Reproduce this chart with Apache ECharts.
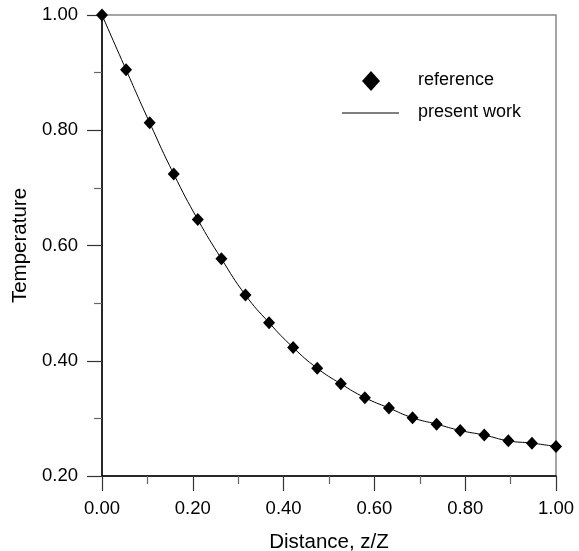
<!DOCTYPE html>
<html>
<head>
<meta charset="utf-8">
<script src="https://cdn.jsdelivr.net/npm/echarts@6/dist/echarts.min.js"></script>
<style>
  html, body { margin: 0; padding: 0; background: #fff; }
  #chart { width: 579px; height: 551px; }
</style>
</head>
<body>
<div id="chart"></div>
<script>
// z/Z positions of the points
const distance = [0.000, 0.053, 0.105, 0.158, 0.211, 0.263, 0.316, 0.368, 0.421, 0.474,
  0.526, 0.579, 0.632, 0.684, 0.737, 0.789, 0.842, 0.895, 0.947, 1.000]
// reference values (diamonds)
const reference = [1.000, 0.905, 0.813, 0.724, 0.645, 0.577, 0.514, 0.466, 0.423, 0.387,
  0.360, 0.336, 0.318, 0.301, 0.290, 0.279, 0.271, 0.261, 0.257, 0.251]
// present work (solid line)
const presentWork = [1.000, 0.905, 0.813, 0.724, 0.645, 0.577, 0.514, 0.466, 0.423, 0.387,
  0.360, 0.336, 0.318, 0.301, 0.290, 0.279, 0.271, 0.261, 0.257, 0.251]

const font = 'Liberation Sans, Arial, sans-serif'
const chart = echarts.init(document.getElementById('chart'))

const axisCommon = {
  nameLocation: 'middle',
  nameTextStyle: { color: '#000', fontSize: 20.5, fontFamily: font },
  axisLine: { show: true, onZero: false, lineStyle: { color: '#000', width: 1.5 } },
  axisTick: { show: true, inside: false, length: 15, lineStyle: { color: '#333', width: 1.2 } },
  minorTick: { show: true, splitNumber: 2, length: 8, lineStyle: { color: '#666', width: 1.2 } },
  splitLine: { show: false },
  axisLabel: {
    color: '#000',
    fontSize: 18.5,
    fontFamily: font,
    formatter: v => v.toFixed(2)
  }
}

const option = {
  backgroundColor: '#fff',
  animation: false,
  grid: {
    left: 102,
    right: 23,
    top: 15,
    bottom: 75,
    containLabel: false,
    outerBoundsMode: 'none',
    show: true,
    borderColor: '#888',
    borderWidth: 1.5,
    backgroundColor: 'transparent'
  },
  xAxis: Object.assign({}, axisCommon, {
    type: 'value',
    min: 0,
    max: 1,
    interval: 0.2,
    name: 'Distance, z/Z',
    nameGap: 56,
    axisLabel: Object.assign({}, axisCommon.axisLabel, { margin: 23 })
  }),
  yAxis: Object.assign({}, axisCommon, {
    type: 'value',
    min: 0.2,
    max: 1.0,
    interval: 0.2,
    name: 'Temperature',
    nameGap: 71,
    axisLabel: Object.assign({}, axisCommon.axisLabel, { margin: 24 })
  }),
  series: [
    {
      name: 'present work',
      type: 'line',
      smooth: true,
      showSymbol: false,
      symbol: 'none',
      lineStyle: { color: '#000', width: 1 },
      data: distance.map((d, i) => [d, presentWork[i]]),
      z: 2
    },
    {
      name: 'reference',
      type: 'scatter',
      symbol: 'diamond',
      symbolSize: [12, 13],
      itemStyle: { color: '#000', opacity: 1 },
      data: distance.map((d, i) => [d, reference[i]]),
      z: 3
    }
  ],
  graphic: [
    {
      type: 'polygon',
      shape: { points: [[371, 71], [380, 81], [371, 91], [362, 81]] },
      style: { fill: '#000' }
    },
    {
      type: 'line',
      shape: { x1: 342, y1: 113, x2: 399, y2: 113 },
      style: { stroke: '#000', lineWidth: 1 }
    },
    {
      type: 'text',
      left: 418,
      top: 71,
      style: { text: 'reference', fill: '#000', font: '18px ' + font }
    },
    {
      type: 'text',
      left: 418,
      top: 103,
      style: { text: 'present work', fill: '#000', font: '18px ' + font }
    }
  ]
}

chart.setOption(option)
</script>
</body>
</html>
